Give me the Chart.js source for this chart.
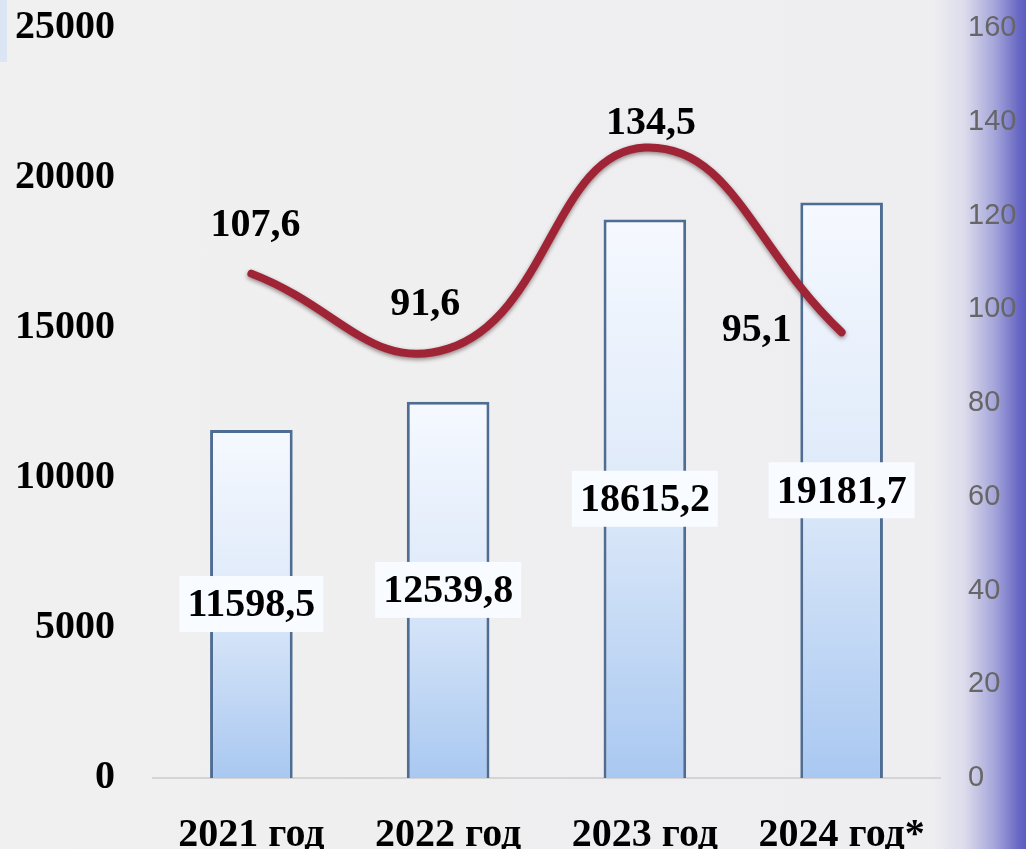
<!DOCTYPE html>
<html>
<head>
<meta charset="utf-8">
<script src="https://cdn.jsdelivr.net/npm/chart.js@4"></script>
<style>
    html, body { margin: 0; padding: 0; }
    body {
        width: 1026px; height: 849px; overflow: hidden; position: relative;
        background: linear-gradient(to right, #f0f0f0 0%, #eeeef1 91%, #dcdcec 94%, #a4a4da 97%, #6868c4 99.3%, #5c5cc0 100%);
    }
    #marca { position: absolute; left: 0; top: 0; width: 7px; height: 62px; background: #dbe5f3; }
    #wrap { position: absolute; left: 0; top: 0; width: 1026px; height: 849px; }
</style>
</head>
<body>
<div id="marca"></div>
<div id="wrap"><canvas id="grafico" width="1026" height="849"></canvas></div>
<script>
// Datos del gráfico
const anios = ["2021 год", "2022 год", "2023 год", "2024 год*"];
const valores = [11598.5, 12539.8, 18615.2, 19181.7];
const indices = [107.6, 91.6, 134.5, 95.1];
const etiquetasValores = ["11598,5", "12539,8", "18615,2", "19181,7"];
const etiquetasIndices = ["107,6", "91,6", "134,5", "95,1"];

// Desplazamiento (px) de las etiquetas de la línea respecto a cada punto
const desplazLinea = [[4, -48], [-23, -44], [6, -24], [-85, -2]];

const fuenteSerif = "bold 40px 'Liberation Serif', 'DejaVu Serif', serif";

// Sombra para la curva
const sombraLinea = {
    id: "sombraLinea",
    beforeDatasetDraw(chart, args) {
        if (args.index !== 1) return;
        const ctx = chart.ctx;
        ctx.save();
        ctx.shadowColor = "rgba(40, 0, 0, 0.45)";
        ctx.shadowBlur = 4;
        ctx.shadowOffsetY = 2;
    },
    afterDatasetDraw(chart, args) {
        if (args.index !== 1) return;
        chart.ctx.restore();
    }
};

// Etiquetas de datos
const etiquetas = {
    id: "etiquetas",
    afterDatasetsDraw(chart) {
        const ctx = chart.ctx;
        const yIzq = chart.scales.y;
        ctx.save();
        ctx.font = fuenteSerif;
        ctx.textAlign = "center";
        ctx.textBaseline = "middle";

        // Etiquetas de las barras, en caja blanca
        chart.getDatasetMeta(0).data.forEach((bar, i) => {
            const y = yIzq.getPixelForValue(valores[i] / 2);
            const texto = etiquetasValores[i];
            const w = ctx.measureText(texto).width + 16;
            const h = 56;
            ctx.fillStyle = "#f8fbff";
            ctx.fillRect(bar.x - w / 2, y - h / 2, w, h);
            ctx.fillStyle = "#000";
            ctx.fillText(texto, bar.x, y + 2);
        });

        // Etiquetas de la línea
        chart.getDatasetMeta(1).data.forEach((pt, i) => {
            ctx.fillStyle = "#000";
            ctx.fillText(etiquetasIndices[i], pt.x + desplazLinea[i][0], pt.y + desplazLinea[i][1]);
        });
        ctx.restore();
    }
};

function rellenoBarra(context) {
    const chart = context.chart;
    if (!chart.chartArea) return "#cfe0f6";
    const y = chart.scales.y;
    const v = valores[context.dataIndex];
    const top = y.getPixelForValue(v);
    const base = y.getPixelForValue(0);
    const g = chart.ctx.createLinearGradient(0, top, 0, base);
    g.addColorStop(0, "#f6f9ff");
    g.addColorStop(0.5, "#dde9f9");
    g.addColorStop(1, "#a9c8f1");
    return g;
}

function ajustarVertical(ancho) {
    return function (axis) {
        axis.width = ancho;
        axis.paddingTop = 0;
        axis.paddingBottom = 0;
    };
}

const ctx = document.getElementById("grafico").getContext("2d");
new Chart(ctx, {
    data: {
        labels: anios,
        datasets: [{
            type: "bar",
            label: "Valor",
            data: valores,
            yAxisID: "y",
            order: 2,
            backgroundColor: rellenoBarra,
            borderColor: "#4f6d93",
            borderWidth: { left: 3, right: 3, top: 3, bottom: 0 },
            borderSkipped: false,
            barPercentage: 0.42,
            categoryPercentage: 1
        }, {
            type: "line",
            label: "Índice",
            data: indices,
            yAxisID: "y2",
            order: 1,
            borderColor: "#9e2436",
            borderWidth: 8,
            tension: 0.45,
            pointRadius: 0,
            fill: false,
            borderCapStyle: "round"
        }]
    },
    options: {
        responsive: false,
        animation: false,
        layout: { padding: { top: 28, left: 0, right: 0, bottom: 0 } },
        plugins: {
            legend: { display: false },
            tooltip: { enabled: false }
        },
        scales: {
            x: {
                grid: { display: false, drawTicks: false },
                border: { display: true, color: "#d4d4d4", width: 2 },
                ticks: {
                    color: "#000",
                    font: { family: "'Liberation Serif', serif", size: 40, weight: "bold" },
                    padding: 34,
                    maxRotation: 0
                },
                afterFit(axis) { axis.height = 71; }
            },
            y: {
                position: "left",
                min: 0,
                max: 25000,
                grid: { display: false, drawTicks: false },
                border: { display: false },
                ticks: {
                    stepSize: 5000,
                    color: "#000",
                    font: { family: "'Liberation Serif', serif", size: 40, weight: "bold" },
                    padding: 38,
                    callback: (v) => String(v)
                },
                afterFit: ajustarVertical(153)
            },
            y2: {
                position: "right",
                min: 0,
                max: 160,
                grid: { display: false, drawTicks: false },
                border: { display: false },
                ticks: {
                    stepSize: 20,
                    color: "#666",
                    font: { family: "'Liberation Sans', Arial, sans-serif", size: 29 },
                    padding: 28
                },
                afterFit: ajustarVertical(86)
            }
        }
    },
    plugins: [sombraLinea, etiquetas]
});
</script>
</body>
</html>
